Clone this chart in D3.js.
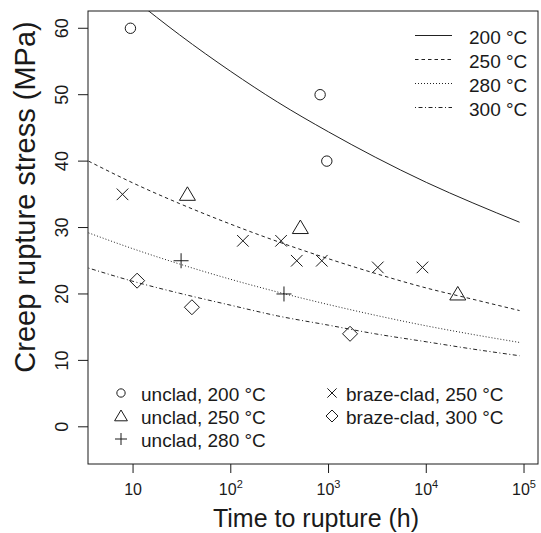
<!DOCTYPE html>
<html>
<head>
<meta charset="utf-8">
<script src="https://cdn.jsdelivr.net/npm/d3@7"></script>
<style>
    body { margin: 0; background: #fff; }
    svg text { font-family: "Liberation Sans", Arial, sans-serif; fill: #1a1a1a; }
</style>
</head>
<body>
<svg id="chart"></svg>
<script>
// fitted curves at these times (h)
const curveTimes = [3.5, 10, 30, 100, 300, 1000, 3000, 10000, 30000, 90000];
const curve200 = [70.2, 64.5, 59.0, 53.5, 48.9, 44.4, 40.6, 36.8, 33.7, 30.8];
const curve250 = [40.0, 36.7, 33.6, 30.5, 27.9, 25.3, 23.1, 20.9, 19.2, 17.5];
const curve280 = [29.2, 26.8, 24.5, 22.2, 20.3, 18.4, 16.8, 15.2, 13.9, 12.7];
const curve300 = [23.9, 21.9, 20.1, 18.3, 16.7, 15.3, 14.0, 12.8, 11.7, 10.7];
const curveLabels = ['200 °C', '250 °C', '280 °C', '300 °C'];

// measured points [time (h), stress (MPa)]
const unclad200 = [[9.4, 60], [820, 50], [960, 40]];
const unclad250 = [[36, 35], [515, 30], [21000, 20]];
const unclad280 = [[31, 25], [350, 20]];
const braze250 = [[7.8, 35], [133, 28], [327, 28], [473, 25], [853, 25], [3190, 24], [9140, 24]];
const braze300 = [[11, 22], [40, 18], [1660, 14]];
const pointLabels = ['unclad, 200 °C', 'unclad, 250 °C', 'unclad, 280 °C', 'braze-clad, 250 °C', 'braze-clad, 300 °C'];

const xTicks = [10, 100, 1000, 10000, 100000];
const xTickExp = ['', '2', '3', '4', '5'];
const yTicks = [0, 10, 20, 30, 40, 50, 60];

const W = 541, H = 533;
const plot = { left: 88, right: 538, top: 11, bottom: 464 };

const svg = d3.select('#chart').attr('width', W).attr('height', H);

const x = d3.scaleLog().domain([3.46, 139000]).range([plot.left, plot.right]);
const y = d3.scaleLinear().domain([-5.6, 62.6]).range([plot.bottom, plot.top]);

svg.append('clipPath').attr('id', 'clip')
    .append('rect')
    .attr('x', plot.left).attr('y', plot.top)
    .attr('width', plot.right - plot.left).attr('height', plot.bottom - plot.top);

// CURVES
const dashes = ['none', '3.5,3', '1,2', '1,2.5,4,2.5'];
const curves = [curve200, curve250, curve280, curve300];

const line = d3.line()
    .x(d => x(d[0]))
    .y(d => y(d[1]))
    .curve(d3.curveMonotoneX);

svg.append('g').attr('clip-path', 'url(#clip)')
    .selectAll('path')
    .data(curves)
    .enter()
    .append('path')
    .attr('d', c => line(c.map((v, i) => [curveTimes[i], v])))
    .attr('fill', 'none')
    .attr('stroke', '#222')
    .attr('stroke-width', 1)
    .attr('stroke-dasharray', (d, i) => dashes[i]);

// SYMBOLS (open, R style)
function shape(type, s) {
    switch (type) {
        case 'circle':
            return `M${-5.2 * s},0a${5.2 * s},${5.2 * s} 0 1,0 ${10.4 * s},0a${5.2 * s},${5.2 * s} 0 1,0 ${-10.4 * s},0`;
        case 'triangle':
            return `M0,${-7.5 * s}L${8 * s},${6 * s}L${-8 * s},${6 * s}Z`;
        case 'plus':
            return `M${-7.5 * s},0H${7.5 * s}M0,${-7.5 * s}V${7.5 * s}`;
        case 'cross':
            return `M${-5.8 * s},${-5.8 * s}L${5.8 * s},${5.8 * s}M${-5.8 * s},${5.8 * s}L${5.8 * s},${-5.8 * s}`;
        case 'diamond':
            return `M0,${-7.5 * s}L${7.5 * s},0L0,${7.5 * s}L${-7.5 * s},0Z`;
    }
}

const pointSets = [unclad200, unclad250, unclad280, braze250, braze300];
const pointShapes = ['circle', 'triangle', 'plus', 'cross', 'diamond'];

pointSets.forEach((set, k) => {
    svg.append('g')
        .selectAll('path')
        .data(set)
        .enter()
        .append('path')
        .attr('transform', d => `translate(${x(d[0])},${y(d[1])})`)
        .attr('d', shape(pointShapes[k], 1))
        .attr('fill', 'none')
        .attr('stroke', '#1a1a1a')
        .attr('stroke-width', 1);
});

// AXES
const xAxis = svg.append('g').attr('transform', `translate(0,${plot.bottom})`);
xAxis.selectAll('line')
    .data(xTicks)
    .enter()
    .append('line')
    .attr('x1', d => x(d)).attr('x2', d => x(d))
    .attr('y1', 0).attr('y2', 9)
    .attr('stroke', '#1a1a1a');

const xLab = xAxis.selectAll('text')
    .data(xTicks)
    .enter()
    .append('text')
    .attr('x', d => x(d))
    .attr('y', 31)
    .attr('text-anchor', 'middle')
    .style('font-size', '16px');
xLab.append('tspan').text('10');
xLab.append('tspan')
    .attr('dy', -7)
    .style('font-size', '11px')
    .text((d, i) => xTickExp[i]);

const yAxis = svg.append('g');
yAxis.selectAll('line')
    .data(yTicks)
    .enter()
    .append('line')
    .attr('x1', plot.left - 10).attr('x2', plot.left)
    .attr('y1', d => y(d)).attr('y2', d => y(d))
    .attr('stroke', '#1a1a1a');

yAxis.selectAll('text')
    .data(yTicks)
    .enter()
    .append('text')
    .attr('transform', d => `translate(68,${y(d)}) rotate(-90)`)
    .attr('text-anchor', 'middle')
    .style('font-size', '18px')
    .text(d => d);

svg.append('rect')
    .attr('x', plot.left).attr('y', plot.top)
    .attr('width', plot.right - plot.left).attr('height', plot.bottom - plot.top)
    .attr('fill', 'none')
    .attr('stroke', '#1a1a1a')
    .attr('stroke-width', 1);

svg.append('text')
    .attr('x', 316).attr('y', 527)
    .attr('text-anchor', 'middle')
    .style('font-size', '25px')
    .text('Time to rupture (h)');

svg.append('text')
    .attr('transform', 'translate(35,197) rotate(-90)')
    .attr('text-anchor', 'middle')
    .style('font-size', '29px')
    .text('Creep rupture stress (MPa)');

// LEGEND - curves
const lg = svg.append('g');
curveLabels.forEach((lab, i) => {
    const cy = 35.5 + i * 24;
    lg.append('line')
        .attr('x1', 415).attr('x2', 452)
        .attr('y1', cy).attr('y2', cy)
        .attr('stroke', '#222')
        .attr('stroke-dasharray', dashes[i]);
    lg.append('text')
        .attr('x', 469).attr('y', cy + 8)
        .style('font-size', '19px')
        .text(lab);
});

// LEGEND - points
const lp = svg.append('g');
const legendPos = [[121, 393], [121, 416], [121, 439], [332, 393], [332, 416]];
pointLabels.forEach((lab, i) => {
    const p = legendPos[i];
    lp.append('path')
        .attr('transform', `translate(${p[0]},${p[1]})`)
        .attr('d', shape(pointShapes[i], 0.8))
        .attr('fill', 'none')
        .attr('stroke', '#1a1a1a');
    lp.append('text')
        .attr('x', p[0] + (i < 3 ? 20 : 14)).attr('y', p[1] + 8)
        .style('font-size', '19px')
        .text(lab);
});
</script>
</body>
</html>
